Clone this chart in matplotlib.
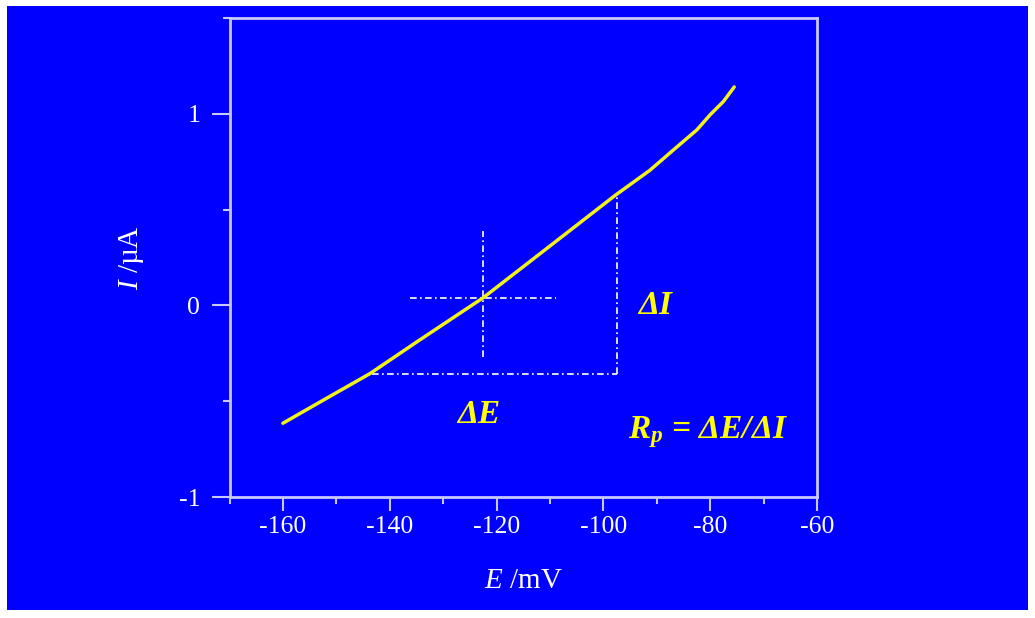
import matplotlib
matplotlib.use("Agg")
import matplotlib.pyplot as plt
from matplotlib.patches import Rectangle
from matplotlib.ticker import MultipleLocator

plt.rcParams['font.family'] = ['Liberation Serif', 'DejaVu Serif']
plt.rcParams['mathtext.fontset'] = 'custom'
plt.rcParams['mathtext.it'] = 'Liberation Serif:italic'
plt.rcParams['mathtext.bfit'] = 'Liberation Serif:italic:bold'
plt.rcParams['mathtext.rm'] = 'Liberation Serif'

# data
E_mV = [-160, -153.1, -143.7, -134.9, -122.5, -110, -97.8, -91.3, -86.9, -82.5, -80.0, -77.5, -75.5]
I_uA = [-0.615, -0.505, -0.356, -0.19, 0.04, 0.31, 0.574, 0.705, 0.811, 0.916, 0.995, 1.065, 1.14]
cross_E = -122.5
cross_I = 0.04
cross_E_span = (-136.2, -108.9)
cross_I_span = (-0.27, 0.39)
rect_E = (-143.3, -97.4)
rect_I = (-0.36, 0.58)
xticks = [-160, -140, -120, -100, -80, -60]
yticks = [-1, 0, 1]

BLUE = '#0000ff'
SPINE = '#c8c8ff'
YEL = '#ffff00'

fig = plt.figure(figsize=(10.35, 6.18), dpi=100, facecolor='white')
fig.patches.append(Rectangle((7/1035, 8/618), (1028-7)/1035, (612-8)/618,
                             transform=fig.transFigure, facecolor=BLUE,
                             edgecolor='none', zorder=-10))
ax = fig.add_axes([229.5/1035, 1-497/618, (817-229.5)/1035, (497-18)/618])
ax.set_zorder(5)
ax.set_facecolor(BLUE)
ax.set_xlim(-170, -60)
ax.set_ylim(-1, 1.5)

ax.plot(E_mV, I_uA, color='#f2f21a', lw=2.5, solid_capstyle='round', zorder=3)

dash = (0, (4, 2, 1, 2))
ax.plot(cross_E_span, [cross_I, cross_I], color='white', lw=1.2, linestyle=dash)
ax.plot([cross_E, cross_E], cross_I_span, color='white', lw=1.2, linestyle=dash)
ax.plot([rect_E[0], rect_E[1]], [rect_I[0], rect_I[0]], color='white', lw=1.2, linestyle=dash)
ax.plot([rect_E[1], rect_E[1]], [rect_I[0], rect_I[1]], color='white', lw=1.2, linestyle=dash)

tkw = dict(color=YEL, fontsize=24, fontweight='bold', fontstyle='italic')
ax.text(-90.3, 0.0, 'ΔI', ha='center', va='center', **tkw)
ax.text(-123.3, -0.57, 'ΔE', ha='center', va='center', **tkw)
ax.text(-80.4, -0.66, r'$\mathbfit{R}_\mathbfit{p}$ = ΔE/ΔI', ha='center', va='center', **tkw)

for s in ax.spines.values():
    s.set_color(SPINE)
    s.set_linewidth(2)

ax.set_xticks(xticks)
ax.set_yticks(yticks)
ax.xaxis.set_minor_locator(MultipleLocator(10))
ax.yaxis.set_minor_locator(MultipleLocator(0.5))
ax.tick_params(which='major', direction='out', width=1.5, color=SPINE,
               labelcolor='white', labelsize=18.5)
ax.tick_params(axis='x', which='major', length=10)
ax.tick_params(axis='y', which='major', length=13, pad=8)
ax.tick_params(which='minor', direction='out', length=5, width=1.5, color=SPINE)
ax.set_xticklabels([str(t) for t in xticks])
ax.set_yticklabels([str(t) for t in yticks])

ax.set_xlabel(r'$E$ /mV', color='white', fontsize=21, labelpad=22)
ax.set_ylabel(r'$I$ /µA', color='white', fontsize=21, labelpad=23.5)

fig.savefig('out.png', dpi=100, facecolor='white')
